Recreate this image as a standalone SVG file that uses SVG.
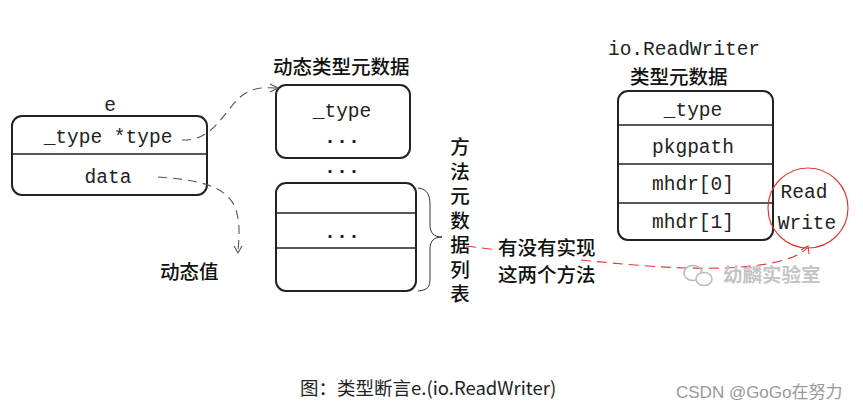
<svg xmlns="http://www.w3.org/2000/svg" width="863" height="410" viewBox="0 0 863 410">
<style>
.box{fill:#fff;stroke:#222;stroke-width:2}
.div{stroke:#222;stroke-width:1.3}
.mono{font-family:"Liberation Mono","Courier New",monospace;font-size:19.5px;fill:#222;text-anchor:middle}
.dots{font-family:"Liberation Mono",monospace;font-size:20px;font-weight:bold;fill:#222;text-anchor:middle}
.cjk{font-family:"Noto Sans CJK SC","Noto Sans",sans-serif;font-size:19.5px;font-weight:500;fill:#111}
.dash{fill:none;stroke:#555;stroke-width:1.1;stroke-dasharray:9 6}
.head{fill:none;stroke:#555;stroke-width:1.1}
.red{fill:none;stroke:#e53935;stroke-width:1.1;stroke-dasharray:10 6}
.redhead{fill:none;stroke:#e53935;stroke-width:1.1}
</style>
<rect width="863" height="410" fill="#fff"/>

<g id="node-e">
<text class="mono" x="110" y="111">e</text>
<rect class="box" x="12" y="116" width="195" height="79" rx="10"/>
<line class="div" x1="12" y1="154" x2="207" y2="154"/>
<text class="mono" x="108" y="143">_type *type</text>
<text class="mono" x="108" y="183">data</text>
</g>

<g id="node-dyntype">
<text class="cjk" x="273" y="74">动态类型元数据</text>
<rect class="box" x="276" y="85" width="134" height="73" rx="10"/>
<text class="mono" x="342" y="117">_type</text>
<text class="dots" x="342" y="143">...</text>
<text class="dots" x="342" y="173">...</text>
</g>

<g id="node-methods">
<rect class="box" x="276" y="183" width="140" height="108" rx="10"/>
<line class="div" x1="276" y1="213" x2="416" y2="213"/>
<line class="div" x1="276" y1="248" x2="416" y2="248"/>
<text class="dots" x="342" y="238">...</text>
<path d="M418,188 C428,189 430,196 430,205 L430,225 C430,233 434,237 442,237 C434,237 430,241 430,249 L430,278 C430,287 428,290 418,291" fill="none" stroke="#333" stroke-width="1"/>
<text class="cjk" x="460" y="137" writing-mode="vertical-rl" letter-spacing="5">方法元数据列表</text>
</g>

<g id="node-iorw">
<text class="mono" x="684" y="55">io.ReadWriter</text>
<text class="cjk" x="630" y="84">类型元数据</text>
<rect class="box" x="618" y="91" width="155" height="149" rx="10"/>
<line class="div" x1="618" y1="125" x2="773" y2="125"/>
<line class="div" x1="618" y1="164" x2="773" y2="164"/>
<line class="div" x1="618" y1="203" x2="773" y2="203"/>
<text class="mono" x="693" y="116">_type</text>
<text class="mono" x="693" y="153">pkgpath</text>
<text class="mono" x="693" y="190">mhdr[0]</text>
<text class="mono" x="693" y="228">mhdr[1]</text>
</g>

<g id="node-readwrite">
<circle cx="808" cy="208" r="40" fill="none" stroke="#e53935" stroke-width="1.2"/>
<text class="mono" x="804" y="198">Read</text>
<text class="mono" x="807" y="229">Write</text>
</g>

<g id="label-question">
<text class="cjk" x="498" y="255">有没有实现</text>
<text class="cjk" x="498" y="282">这两个方法</text>
</g>

<g id="label-dynval">
<text class="cjk" x="160" y="279">动态值</text>
</g>

<g id="connectors">
<path class="dash" d="M182,140 C212,141 222,115 238,99 C249,88 262,87 276,88"/>
<path class="head" d="M270,84 L278,88 L270,92"/>
<path class="dash" d="M158,177 C200,180 224,186 234,205 C241,220 239,238 238,252"/>
<path class="head" d="M234,246 L238,253 L242,246"/>
<path class="red" d="M466,246 L497,250"/>
<path class="red" d="M581,260 C650,267 720,273 772,263 C790,259 802,254 807,248"/>
<path class="redhead" d="M801,250 L808,246 L809,254"/>
</g>

<g id="watermark">
<ellipse cx="693" cy="273" rx="9" ry="7.5" fill="none" stroke="#bbb" stroke-width="1.5"/>
<ellipse cx="704" cy="279" rx="8" ry="6.5" fill="#fff" stroke="#bbb" stroke-width="1.5"/>
<text x="723" y="282" font-family="'Noto Sans CJK SC',sans-serif" font-size="19.5" font-weight="bold" fill="#c4c4c4">幼麟实验室</text>
</g>

<g id="caption">
<text x="300" y="395" font-family="'Noto Sans CJK SC','Noto Sans',sans-serif" font-size="18.5" fill="#222">图：类型断言e.(io.ReadWriter)</text>
<text x="676" y="398" font-family="'Liberation Sans','Noto Sans CJK SC',sans-serif" font-size="17" fill="#999">CSDN @GoGo在努力</text>
</g>
</svg>
